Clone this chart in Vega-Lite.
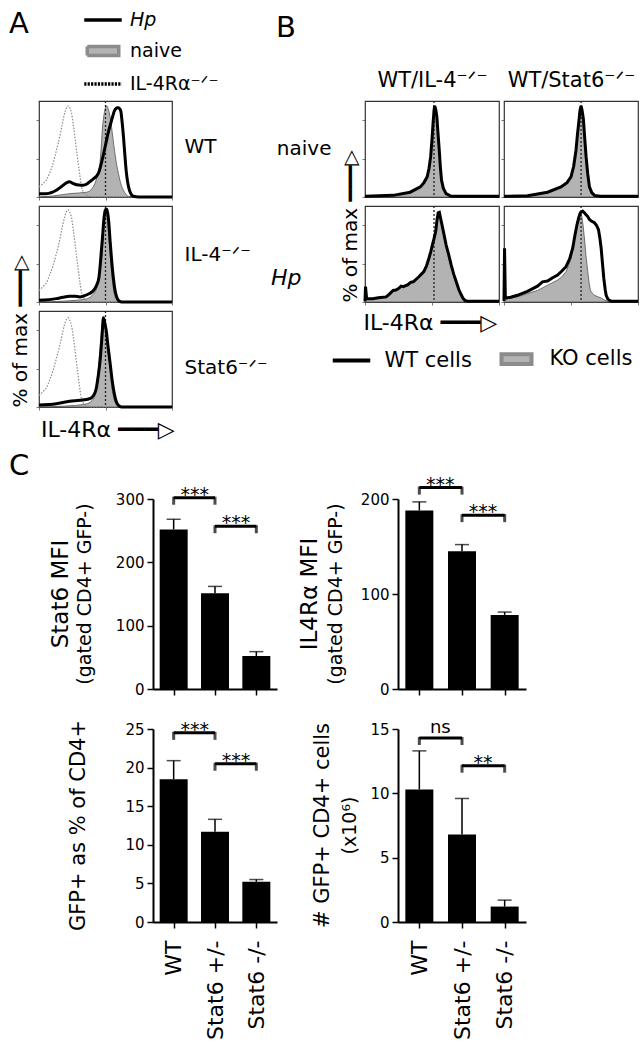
{
"$schema": "https://vega.github.io/schema/vega-lite/v6.json",
"padding": {"left": 8, "top": 2, "right": 2, "bottom": 2},
"background": "white",
"config": {
  "font": "DejaVu Sans",
  "view": {"stroke": null},
  "axis": {"grid": false, "labelFont": "DejaVu Sans", "titleFont": "DejaVu Sans", "labelColor": "black", "titleColor": "black", "titleFontWeight": "normal", "domainColor": "black", "tickColor": "black", "labelOverlap": false},
  "title": {"font": "DejaVu Sans", "fontWeight": "normal", "color": "black", "subtitleFont": "DejaVu Sans", "subtitleColor": "black", "subtitleFontSize": 19, "subtitlePadding": 4},
  "legend": {"labelFont": "DejaVu Sans", "titleFont": "DejaVu Sans", "labelColor": "black", "titleColor": "black", "titleFontWeight": "normal", "padding": 0},
  "text": {"font": "DejaVu Sans"}
},
"datasets": {
  "markers": [
    {"panel": "A_WT", "x": 50}, {"panel": "A_IL4", "x": 50}, {"panel": "A_Stat6", "x": 50},
    {"panel": "B_IL4_naive", "x": 51.5}, {"panel": "B_Stat6_naive", "x": 57.5},
    {"panel": "B_IL4_Hp", "x": 51.5}, {"panel": "B_Stat6_Hp", "x": 57.5}
  ],
  "bars": [
    {"chart": "stat6", "group": "WT", "mean": 252, "upper": 268},
    {"chart": "stat6", "group": "Stat6 +/-", "mean": 151, "upper": 162},
    {"chart": "stat6", "group": "Stat6 -/-", "mean": 52, "upper": 59},
    {"chart": "il4r", "group": "WT", "mean": 188, "upper": 197},
    {"chart": "il4r", "group": "Stat6 +/-", "mean": 145, "upper": 152},
    {"chart": "il4r", "group": "Stat6 -/-", "mean": 78, "upper": 81},
    {"chart": "gfp", "group": "WT", "mean": 18.5, "upper": 20.9},
    {"chart": "gfp", "group": "Stat6 +/-", "mean": 11.7, "upper": 13.3},
    {"chart": "gfp", "group": "Stat6 -/-", "mean": 5.2, "upper": 5.5},
    {"chart": "cells", "group": "WT", "mean": 10.3, "upper": 13.3},
    {"chart": "cells", "group": "Stat6 +/-", "mean": 6.8, "upper": 9.6},
    {"chart": "cells", "group": "Stat6 -/-", "mean": 1.2, "upper": 1.7}
  ],
  "brackets": [
    {"chart": "stat6", "from": "WT", "to": "Stat6 +/-", "level": 302, "label": "***"},
    {"chart": "stat6", "from": "Stat6 +/-", "to": "Stat6 -/-", "level": 257, "label": "***"},
    {"chart": "il4r", "from": "WT", "to": "Stat6 +/-", "level": 212, "label": "***"},
    {"chart": "il4r", "from": "Stat6 +/-", "to": "Stat6 -/-", "level": 183, "label": "***"},
    {"chart": "gfp", "from": "WT", "to": "Stat6 +/-", "level": 24.5, "label": "***"},
    {"chart": "gfp", "from": "Stat6 +/-", "to": "Stat6 -/-", "level": 20.5, "label": "***"},
    {"chart": "cells", "from": "WT", "to": "Stat6 +/-", "level": 14.3, "label": "ns"},
    {"chart": "cells", "from": "Stat6 +/-", "to": "Stat6 -/-", "level": 12.15, "label": "**"}
  ],
  "curves": [
    {"panel":"A_WT","series":"naive","x":0,"y":0},{"panel":"A_WT","series":"naive","x":10,"y":1},{"panel":"A_WT","series":"naive","x":23,"y":3.5},{"panel":"A_WT","series":"naive","x":36,"y":5},{"panel":"A_WT","series":"naive","x":40,"y":9},{"panel":"A_WT","series":"naive","x":42,"y":14},{"panel":"A_WT","series":"naive","x":44,"y":23},{"panel":"A_WT","series":"naive","x":45.8,"y":35},{"panel":"A_WT","series":"naive","x":46.8,"y":52},{"panel":"A_WT","series":"naive","x":47.6,"y":70},{"panel":"A_WT","series":"naive","x":48.6,"y":83},{"panel":"A_WT","series":"naive","x":49.6,"y":91},{"panel":"A_WT","series":"naive","x":50.9,"y":95},{"panel":"A_WT","series":"naive","x":52,"y":92},{"panel":"A_WT","series":"naive","x":53.4,"y":84},{"panel":"A_WT","series":"naive","x":55,"y":68},{"panel":"A_WT","series":"naive","x":56.4,"y":52.6},{"panel":"A_WT","series":"naive","x":58,"y":37},{"panel":"A_WT","series":"naive","x":59.7,"y":24.6},{"panel":"A_WT","series":"naive","x":61.5,"y":14},{"panel":"A_WT","series":"naive","x":63.5,"y":7},{"panel":"A_WT","series":"naive","x":65.5,"y":2.5},{"panel":"A_WT","series":"naive","x":67.3,"y":0.7},{"panel":"A_WT","series":"naive","x":75,"y":0},{"panel":"A_WT","series":"naive","x":100,"y":0},
    {"panel":"A_WT","series":"KO","x":0,"y":10.5},{"panel":"A_WT","series":"KO","x":3,"y":14},{"panel":"A_WT","series":"KO","x":5.5,"y":17.5},{"panel":"A_WT","series":"KO","x":8,"y":25},{"panel":"A_WT","series":"KO","x":10.6,"y":35},{"panel":"A_WT","series":"KO","x":13,"y":48},{"panel":"A_WT","series":"KO","x":15.6,"y":63},{"panel":"A_WT","series":"KO","x":17.5,"y":76},{"panel":"A_WT","series":"KO","x":19.4,"y":88},{"panel":"A_WT","series":"KO","x":21,"y":93.5},{"panel":"A_WT","series":"KO","x":22,"y":95},{"panel":"A_WT","series":"KO","x":23,"y":93.5},{"panel":"A_WT","series":"KO","x":24.4,"y":88},{"panel":"A_WT","series":"KO","x":25.7,"y":76},{"panel":"A_WT","series":"KO","x":27,"y":63},{"panel":"A_WT","series":"KO","x":28.2,"y":49},{"panel":"A_WT","series":"KO","x":29.5,"y":35},{"panel":"A_WT","series":"KO","x":30.8,"y":22},{"panel":"A_WT","series":"KO","x":32,"y":10.5},{"panel":"A_WT","series":"KO","x":34,"y":4},{"panel":"A_WT","series":"KO","x":35.8,"y":2},{"panel":"A_WT","series":"KO","x":40.8,"y":0},{"panel":"A_WT","series":"KO","x":100,"y":0},
    {"panel":"A_WT","series":"Hp","x":0,"y":3.5},{"panel":"A_WT","series":"Hp","x":5.5,"y":3.5},{"panel":"A_WT","series":"Hp","x":13,"y":7},{"panel":"A_WT","series":"Hp","x":17,"y":11},{"panel":"A_WT","series":"Hp","x":20.6,"y":14.7},{"panel":"A_WT","series":"Hp","x":23,"y":15.8},{"panel":"A_WT","series":"Hp","x":25,"y":14.5},{"panel":"A_WT","series":"Hp","x":27,"y":13.3},{"panel":"A_WT","series":"Hp","x":30,"y":12.5},{"panel":"A_WT","series":"Hp","x":33,"y":12.3},{"panel":"A_WT","series":"Hp","x":36,"y":13.5},{"panel":"A_WT","series":"Hp","x":38,"y":15.8},{"panel":"A_WT","series":"Hp","x":41,"y":19},{"panel":"A_WT","series":"Hp","x":44.6,"y":24.6},{"panel":"A_WT","series":"Hp","x":46.5,"y":33},{"panel":"A_WT","series":"Hp","x":48.4,"y":44},{"panel":"A_WT","series":"Hp","x":50,"y":54},{"panel":"A_WT","series":"Hp","x":52,"y":66.7},{"panel":"A_WT","series":"Hp","x":54,"y":77},{"panel":"A_WT","series":"Hp","x":55.4,"y":84},{"panel":"A_WT","series":"Hp","x":56.5,"y":89},{"panel":"A_WT","series":"Hp","x":57.7,"y":92},{"panel":"A_WT","series":"Hp","x":58.7,"y":93},{"panel":"A_WT","series":"Hp","x":59.7,"y":93},{"panel":"A_WT","series":"Hp","x":60.6,"y":92},{"panel":"A_WT","series":"Hp","x":61.5,"y":89.5},{"panel":"A_WT","series":"Hp","x":62.5,"y":78},{"panel":"A_WT","series":"Hp","x":63.5,"y":63},{"panel":"A_WT","series":"Hp","x":64.5,"y":45},{"panel":"A_WT","series":"Hp","x":65.5,"y":28},{"panel":"A_WT","series":"Hp","x":66.7,"y":15},{"panel":"A_WT","series":"Hp","x":68,"y":7},{"panel":"A_WT","series":"Hp","x":69.5,"y":2.5},{"panel":"A_WT","series":"Hp","x":71,"y":0.7},{"panel":"A_WT","series":"Hp","x":75,"y":0},{"panel":"A_WT","series":"Hp","x":100,"y":0},

    {"panel":"A_IL4","series":"naive","x":0,"y":0},{"panel":"A_IL4","series":"naive","x":20,"y":1},{"panel":"A_IL4","series":"naive","x":35,"y":3},{"panel":"A_IL4","series":"naive","x":40,"y":7},{"panel":"A_IL4","series":"naive","x":43.3,"y":14},{"panel":"A_IL4","series":"naive","x":45.8,"y":31.6},{"panel":"A_IL4","series":"naive","x":47.6,"y":52.6},{"panel":"A_IL4","series":"naive","x":48.9,"y":84},{"panel":"A_IL4","series":"naive","x":50,"y":95},{"panel":"A_IL4","series":"naive","x":51,"y":90},{"panel":"A_IL4","series":"naive","x":52,"y":77},{"panel":"A_IL4","series":"naive","x":53,"y":58},{"panel":"A_IL4","series":"naive","x":53.9,"y":42},{"panel":"A_IL4","series":"naive","x":55,"y":25},{"panel":"A_IL4","series":"naive","x":55.9,"y":14},{"panel":"A_IL4","series":"naive","x":57,"y":6},{"panel":"A_IL4","series":"naive","x":58.4,"y":2.8},{"panel":"A_IL4","series":"naive","x":61,"y":0},{"panel":"A_IL4","series":"naive","x":100,"y":0},
    {"panel":"A_IL4","series":"KO","x":0,"y":12},{"panel":"A_IL4","series":"KO","x":3,"y":16},{"panel":"A_IL4","series":"KO","x":5.5,"y":20},{"panel":"A_IL4","series":"KO","x":8,"y":28},{"panel":"A_IL4","series":"KO","x":10.6,"y":38},{"panel":"A_IL4","series":"KO","x":13,"y":50},{"panel":"A_IL4","series":"KO","x":15.6,"y":65},{"panel":"A_IL4","series":"KO","x":17.5,"y":78},{"panel":"A_IL4","series":"KO","x":19.4,"y":89},{"panel":"A_IL4","series":"KO","x":21,"y":95},{"panel":"A_IL4","series":"KO","x":22,"y":96},{"panel":"A_IL4","series":"KO","x":23,"y":94},{"panel":"A_IL4","series":"KO","x":24.4,"y":88},{"panel":"A_IL4","series":"KO","x":25.7,"y":76},{"panel":"A_IL4","series":"KO","x":27,"y":62},{"panel":"A_IL4","series":"KO","x":28.2,"y":48},{"panel":"A_IL4","series":"KO","x":29.5,"y":34},{"panel":"A_IL4","series":"KO","x":30.8,"y":20},{"panel":"A_IL4","series":"KO","x":32,"y":9},{"panel":"A_IL4","series":"KO","x":34,"y":3.5},{"panel":"A_IL4","series":"KO","x":35.8,"y":1.5},{"panel":"A_IL4","series":"KO","x":40,"y":0},{"panel":"A_IL4","series":"KO","x":100,"y":0},
    {"panel":"A_IL4","series":"Hp","x":0,"y":1.7},{"panel":"A_IL4","series":"Hp","x":13,"y":3.5},{"panel":"A_IL4","series":"Hp","x":18,"y":5},{"panel":"A_IL4","series":"Hp","x":23,"y":6},{"panel":"A_IL4","series":"Hp","x":27,"y":6},{"panel":"A_IL4","series":"Hp","x":30.7,"y":5.3},{"panel":"A_IL4","series":"Hp","x":34,"y":6.5},{"panel":"A_IL4","series":"Hp","x":38,"y":8.8},{"panel":"A_IL4","series":"Hp","x":41,"y":12},{"panel":"A_IL4","series":"Hp","x":43.3,"y":17.5},{"panel":"A_IL4","series":"Hp","x":45,"y":25},{"panel":"A_IL4","series":"Hp","x":45.8,"y":35},{"panel":"A_IL4","series":"Hp","x":47,"y":55},{"panel":"A_IL4","series":"Hp","x":47.9,"y":70},{"panel":"A_IL4","series":"Hp","x":48.7,"y":85},{"panel":"A_IL4","series":"Hp","x":49.4,"y":93},{"panel":"A_IL4","series":"Hp","x":50.3,"y":96.5},{"panel":"A_IL4","series":"Hp","x":51,"y":96.5},{"panel":"A_IL4","series":"Hp","x":51.8,"y":91},{"panel":"A_IL4","series":"Hp","x":52.4,"y":84},{"panel":"A_IL4","series":"Hp","x":53.5,"y":63},{"panel":"A_IL4","series":"Hp","x":54.7,"y":42},{"panel":"A_IL4","series":"Hp","x":56,"y":24},{"panel":"A_IL4","series":"Hp","x":57.2,"y":12},{"panel":"A_IL4","series":"Hp","x":58.5,"y":5},{"panel":"A_IL4","series":"Hp","x":59.7,"y":1.7},{"panel":"A_IL4","series":"Hp","x":62,"y":0},{"panel":"A_IL4","series":"Hp","x":100,"y":0},

    {"panel":"A_Stat6","series":"naive","x":0,"y":0},{"panel":"A_Stat6","series":"naive","x":20,"y":1},{"panel":"A_Stat6","series":"naive","x":35,"y":3},{"panel":"A_Stat6","series":"naive","x":40,"y":7},{"panel":"A_Stat6","series":"naive","x":42,"y":12},{"panel":"A_Stat6","series":"naive","x":43.5,"y":25},{"panel":"A_Stat6","series":"naive","x":44.6,"y":40},{"panel":"A_Stat6","series":"naive","x":45.7,"y":58},{"panel":"A_Stat6","series":"naive","x":46.6,"y":74},{"panel":"A_Stat6","series":"naive","x":47.5,"y":86},{"panel":"A_Stat6","series":"naive","x":48.4,"y":91},{"panel":"A_Stat6","series":"naive","x":49.5,"y":86},{"panel":"A_Stat6","series":"naive","x":50.9,"y":74},{"panel":"A_Stat6","series":"naive","x":52,"y":58},{"panel":"A_Stat6","series":"naive","x":53.4,"y":40},{"panel":"A_Stat6","series":"naive","x":54.6,"y":22},{"panel":"A_Stat6","series":"naive","x":55.9,"y":12},{"panel":"A_Stat6","series":"naive","x":57.5,"y":4},{"panel":"A_Stat6","series":"naive","x":59.7,"y":1},{"panel":"A_Stat6","series":"naive","x":62,"y":0},{"panel":"A_Stat6","series":"naive","x":100,"y":0},
    {"panel":"A_Stat6","series":"KO","x":0,"y":12},{"panel":"A_Stat6","series":"KO","x":3,"y":16},{"panel":"A_Stat6","series":"KO","x":5.5,"y":20},{"panel":"A_Stat6","series":"KO","x":8,"y":28},{"panel":"A_Stat6","series":"KO","x":10.6,"y":38},{"panel":"A_Stat6","series":"KO","x":13,"y":50},{"panel":"A_Stat6","series":"KO","x":15.6,"y":64},{"panel":"A_Stat6","series":"KO","x":17.5,"y":76},{"panel":"A_Stat6","series":"KO","x":19.4,"y":87},{"panel":"A_Stat6","series":"KO","x":21,"y":92},{"panel":"A_Stat6","series":"KO","x":22,"y":93},{"panel":"A_Stat6","series":"KO","x":23,"y":91},{"panel":"A_Stat6","series":"KO","x":24.4,"y":85},{"panel":"A_Stat6","series":"KO","x":25.7,"y":74},{"panel":"A_Stat6","series":"KO","x":27,"y":60},{"panel":"A_Stat6","series":"KO","x":28.2,"y":46},{"panel":"A_Stat6","series":"KO","x":29.5,"y":32},{"panel":"A_Stat6","series":"KO","x":30.8,"y":18},{"panel":"A_Stat6","series":"KO","x":32,"y":8},{"panel":"A_Stat6","series":"KO","x":34,"y":3},{"panel":"A_Stat6","series":"KO","x":35.8,"y":1.2},{"panel":"A_Stat6","series":"KO","x":40,"y":0},{"panel":"A_Stat6","series":"KO","x":100,"y":0},
    {"panel":"A_Stat6","series":"Hp","x":0,"y":2},{"panel":"A_Stat6","series":"Hp","x":13,"y":3.5},{"panel":"A_Stat6","series":"Hp","x":23,"y":6},{"panel":"A_Stat6","series":"Hp","x":30.7,"y":7},{"panel":"A_Stat6","series":"Hp","x":38,"y":8.6},{"panel":"A_Stat6","series":"Hp","x":41,"y":12},{"panel":"A_Stat6","series":"Hp","x":43,"y":19},{"panel":"A_Stat6","series":"Hp","x":44.5,"y":32},{"panel":"A_Stat6","series":"Hp","x":45.8,"y":46.5},{"panel":"A_Stat6","series":"Hp","x":47.4,"y":74},{"panel":"A_Stat6","series":"Hp","x":48.4,"y":93},{"panel":"A_Stat6","series":"Hp","x":49.4,"y":88},{"panel":"A_Stat6","series":"Hp","x":50.4,"y":81},{"panel":"A_Stat6","series":"Hp","x":52,"y":62},{"panel":"A_Stat6","series":"Hp","x":53.4,"y":46.5},{"panel":"A_Stat6","series":"Hp","x":55,"y":28},{"panel":"A_Stat6","series":"Hp","x":56.4,"y":15.5},{"panel":"A_Stat6","series":"Hp","x":58,"y":6},{"panel":"A_Stat6","series":"Hp","x":59.7,"y":1.7},{"panel":"A_Stat6","series":"Hp","x":62,"y":0},{"panel":"A_Stat6","series":"Hp","x":100,"y":0},

    {"panel":"B_IL4_naive","series":"KO","x":0,"y":0.7},{"panel":"B_IL4_naive","series":"KO","x":21,"y":1.7},{"panel":"B_IL4_naive","series":"KO","x":33.7,"y":5},{"panel":"B_IL4_naive","series":"KO","x":41.3,"y":10.5},{"panel":"B_IL4_naive","series":"KO","x":44,"y":15},{"panel":"B_IL4_naive","series":"KO","x":46.4,"y":21},{"panel":"B_IL4_naive","series":"KO","x":47.8,"y":30},{"panel":"B_IL4_naive","series":"KO","x":49,"y":42},{"panel":"B_IL4_naive","series":"KO","x":50,"y":60},{"panel":"B_IL4_naive","series":"KO","x":50.8,"y":76},{"panel":"B_IL4_naive","series":"KO","x":51.5,"y":88},{"panel":"B_IL4_naive","series":"KO","x":52,"y":93},{"panel":"B_IL4_naive","series":"KO","x":52.8,"y":89},{"panel":"B_IL4_naive","series":"KO","x":53.6,"y":82},{"panel":"B_IL4_naive","series":"KO","x":54.5,"y":64},{"panel":"B_IL4_naive","series":"KO","x":55.4,"y":47},{"panel":"B_IL4_naive","series":"KO","x":56.2,"y":30},{"panel":"B_IL4_naive","series":"KO","x":57.1,"y":16},{"panel":"B_IL4_naive","series":"KO","x":58.5,"y":8},{"panel":"B_IL4_naive","series":"KO","x":60.5,"y":3},{"panel":"B_IL4_naive","series":"KO","x":64.3,"y":0.7},{"panel":"B_IL4_naive","series":"KO","x":100,"y":0.7},
    {"panel":"B_IL4_naive","series":"WT","x":0,"y":0.7},{"panel":"B_IL4_naive","series":"WT","x":21,"y":1.7},{"panel":"B_IL4_naive","series":"WT","x":33.7,"y":5},{"panel":"B_IL4_naive","series":"WT","x":41.3,"y":10.5},{"panel":"B_IL4_naive","series":"WT","x":44,"y":15},{"panel":"B_IL4_naive","series":"WT","x":46.4,"y":21},{"panel":"B_IL4_naive","series":"WT","x":47.8,"y":30},{"panel":"B_IL4_naive","series":"WT","x":49,"y":42},{"panel":"B_IL4_naive","series":"WT","x":50,"y":60},{"panel":"B_IL4_naive","series":"WT","x":50.8,"y":77},{"panel":"B_IL4_naive","series":"WT","x":51.5,"y":90},{"panel":"B_IL4_naive","series":"WT","x":52,"y":95},{"panel":"B_IL4_naive","series":"WT","x":52.8,"y":91},{"panel":"B_IL4_naive","series":"WT","x":53.6,"y":84},{"panel":"B_IL4_naive","series":"WT","x":54.5,"y":66},{"panel":"B_IL4_naive","series":"WT","x":55.4,"y":49},{"panel":"B_IL4_naive","series":"WT","x":56.2,"y":32},{"panel":"B_IL4_naive","series":"WT","x":57.1,"y":17.5},{"panel":"B_IL4_naive","series":"WT","x":58.5,"y":9},{"panel":"B_IL4_naive","series":"WT","x":60.5,"y":3.5},{"panel":"B_IL4_naive","series":"WT","x":64.3,"y":0.7},{"panel":"B_IL4_naive","series":"WT","x":100,"y":0.7},

    {"panel":"B_Stat6_naive","series":"KO","x":0,"y":0.7},{"panel":"B_Stat6_naive","series":"KO","x":17.5,"y":1.2},{"panel":"B_Stat6_naive","series":"KO","x":32.5,"y":5},{"panel":"B_Stat6_naive","series":"KO","x":42.5,"y":10},{"panel":"B_Stat6_naive","series":"KO","x":47,"y":14},{"panel":"B_Stat6_naive","series":"KO","x":50,"y":20},{"panel":"B_Stat6_naive","series":"KO","x":52,"y":31},{"panel":"B_Stat6_naive","series":"KO","x":53.75,"y":47},{"panel":"B_Stat6_naive","series":"KO","x":54.8,"y":63},{"panel":"B_Stat6_naive","series":"KO","x":55.75,"y":75},{"panel":"B_Stat6_naive","series":"KO","x":56.7,"y":88},{"panel":"B_Stat6_naive","series":"KO","x":57.5,"y":93},{"panel":"B_Stat6_naive","series":"KO","x":58.3,"y":88},{"panel":"B_Stat6_naive","series":"KO","x":59.25,"y":79},{"panel":"B_Stat6_naive","series":"KO","x":60.2,"y":60},{"panel":"B_Stat6_naive","series":"KO","x":61.25,"y":40},{"panel":"B_Stat6_naive","series":"KO","x":62.5,"y":22},{"panel":"B_Stat6_naive","series":"KO","x":63.75,"y":9},{"panel":"B_Stat6_naive","series":"KO","x":65.5,"y":3.5},{"panel":"B_Stat6_naive","series":"KO","x":67.5,"y":1.2},{"panel":"B_Stat6_naive","series":"KO","x":72,"y":0.7},{"panel":"B_Stat6_naive","series":"KO","x":100,"y":0.7},
    {"panel":"B_Stat6_naive","series":"WT","x":0,"y":0.7},{"panel":"B_Stat6_naive","series":"WT","x":17.5,"y":1.2},{"panel":"B_Stat6_naive","series":"WT","x":32.5,"y":5},{"panel":"B_Stat6_naive","series":"WT","x":42.5,"y":10.5},{"panel":"B_Stat6_naive","series":"WT","x":47,"y":15},{"panel":"B_Stat6_naive","series":"WT","x":50,"y":21},{"panel":"B_Stat6_naive","series":"WT","x":52,"y":32},{"panel":"B_Stat6_naive","series":"WT","x":53.75,"y":49},{"panel":"B_Stat6_naive","series":"WT","x":54.8,"y":65},{"panel":"B_Stat6_naive","series":"WT","x":55.75,"y":77},{"panel":"B_Stat6_naive","series":"WT","x":56.7,"y":90},{"panel":"B_Stat6_naive","series":"WT","x":57.5,"y":95},{"panel":"B_Stat6_naive","series":"WT","x":58.3,"y":90},{"panel":"B_Stat6_naive","series":"WT","x":59.25,"y":81},{"panel":"B_Stat6_naive","series":"WT","x":60.2,"y":62},{"panel":"B_Stat6_naive","series":"WT","x":61.25,"y":42},{"panel":"B_Stat6_naive","series":"WT","x":62.5,"y":24},{"panel":"B_Stat6_naive","series":"WT","x":63.75,"y":10.5},{"panel":"B_Stat6_naive","series":"WT","x":65.5,"y":4.5},{"panel":"B_Stat6_naive","series":"WT","x":67.5,"y":1.7},{"panel":"B_Stat6_naive","series":"WT","x":72,"y":0.7},{"panel":"B_Stat6_naive","series":"WT","x":100,"y":0.7},

    {"panel":"B_IL4_Hp","series":"KO","x":0,"y":0.7},{"panel":"B_IL4_Hp","series":"KO","x":1.2,"y":3.5},{"panel":"B_IL4_Hp","series":"KO","x":5.6,"y":3.5},{"panel":"B_IL4_Hp","series":"KO","x":10,"y":4.5},{"panel":"B_IL4_Hp","series":"KO","x":15.8,"y":5.3},{"panel":"B_IL4_Hp","series":"KO","x":18,"y":8},{"panel":"B_IL4_Hp","series":"KO","x":21,"y":12},{"panel":"B_IL4_Hp","series":"KO","x":25,"y":14.5},{"panel":"B_IL4_Hp","series":"KO","x":28.6,"y":17},{"panel":"B_IL4_Hp","series":"KO","x":32,"y":18.5},{"panel":"B_IL4_Hp","series":"KO","x":36,"y":21},{"panel":"B_IL4_Hp","series":"KO","x":40,"y":26},{"panel":"B_IL4_Hp","series":"KO","x":43.9,"y":31.6},{"panel":"B_IL4_Hp","series":"KO","x":46,"y":38},{"panel":"B_IL4_Hp","series":"KO","x":47.7,"y":45.6},{"panel":"B_IL4_Hp","series":"KO","x":49,"y":52},{"panel":"B_IL4_Hp","series":"KO","x":50.3,"y":59.6},{"panel":"B_IL4_Hp","series":"KO","x":51.5,"y":66},{"panel":"B_IL4_Hp","series":"KO","x":52.8,"y":73.7},{"panel":"B_IL4_Hp","series":"KO","x":53.7,"y":85},{"panel":"B_IL4_Hp","series":"KO","x":54.6,"y":92},{"panel":"B_IL4_Hp","series":"KO","x":55.5,"y":92.5},{"panel":"B_IL4_Hp","series":"KO","x":56.3,"y":87},{"panel":"B_IL4_Hp","series":"KO","x":57.4,"y":80},{"panel":"B_IL4_Hp","series":"KO","x":59,"y":70},{"panel":"B_IL4_Hp","series":"KO","x":60.5,"y":59.6},{"panel":"B_IL4_Hp","series":"KO","x":62.5,"y":49},{"panel":"B_IL4_Hp","series":"KO","x":64.3,"y":38.6},{"panel":"B_IL4_Hp","series":"KO","x":66.2,"y":29},{"panel":"B_IL4_Hp","series":"KO","x":68.1,"y":21},{"panel":"B_IL4_Hp","series":"KO","x":70,"y":13},{"panel":"B_IL4_Hp","series":"KO","x":72,"y":7},{"panel":"B_IL4_Hp","series":"KO","x":73.3,"y":3.5},{"panel":"B_IL4_Hp","series":"KO","x":74.5,"y":1.7},{"panel":"B_IL4_Hp","series":"KO","x":77,"y":0.7},{"panel":"B_IL4_Hp","series":"KO","x":100,"y":0.7},
    {"panel":"B_IL4_Hp","series":"WT","x":0,"y":0.7},{"panel":"B_IL4_Hp","series":"WT","x":0.4,"y":16},{"panel":"B_IL4_Hp","series":"WT","x":1.2,"y":3.5},{"panel":"B_IL4_Hp","series":"WT","x":5.6,"y":3.5},{"panel":"B_IL4_Hp","series":"WT","x":10,"y":4.5},{"panel":"B_IL4_Hp","series":"WT","x":15.8,"y":5.3},{"panel":"B_IL4_Hp","series":"WT","x":18,"y":8},{"panel":"B_IL4_Hp","series":"WT","x":21,"y":12},{"panel":"B_IL4_Hp","series":"WT","x":23,"y":12.5},{"panel":"B_IL4_Hp","series":"WT","x":25,"y":14},{"panel":"B_IL4_Hp","series":"WT","x":27,"y":16.5},{"panel":"B_IL4_Hp","series":"WT","x":28.6,"y":16},{"panel":"B_IL4_Hp","series":"WT","x":32,"y":18},{"panel":"B_IL4_Hp","series":"WT","x":34,"y":20.5},{"panel":"B_IL4_Hp","series":"WT","x":36,"y":21},{"panel":"B_IL4_Hp","series":"WT","x":40,"y":26},{"panel":"B_IL4_Hp","series":"WT","x":43.9,"y":31.6},{"panel":"B_IL4_Hp","series":"WT","x":46,"y":38},{"panel":"B_IL4_Hp","series":"WT","x":47.7,"y":45.6},{"panel":"B_IL4_Hp","series":"WT","x":49,"y":52},{"panel":"B_IL4_Hp","series":"WT","x":50.3,"y":59.6},{"panel":"B_IL4_Hp","series":"WT","x":51.5,"y":66},{"panel":"B_IL4_Hp","series":"WT","x":52.8,"y":73.7},{"panel":"B_IL4_Hp","series":"WT","x":53.7,"y":85},{"panel":"B_IL4_Hp","series":"WT","x":54.6,"y":93},{"panel":"B_IL4_Hp","series":"WT","x":55.5,"y":93.5},{"panel":"B_IL4_Hp","series":"WT","x":56.3,"y":88},{"panel":"B_IL4_Hp","series":"WT","x":57.4,"y":80.7},{"panel":"B_IL4_Hp","series":"WT","x":59,"y":70},{"panel":"B_IL4_Hp","series":"WT","x":60.5,"y":59.6},{"panel":"B_IL4_Hp","series":"WT","x":62.5,"y":49},{"panel":"B_IL4_Hp","series":"WT","x":64.3,"y":38.6},{"panel":"B_IL4_Hp","series":"WT","x":66.2,"y":29},{"panel":"B_IL4_Hp","series":"WT","x":68.1,"y":21},{"panel":"B_IL4_Hp","series":"WT","x":70,"y":13},{"panel":"B_IL4_Hp","series":"WT","x":72,"y":7},{"panel":"B_IL4_Hp","series":"WT","x":73.3,"y":3.5},{"panel":"B_IL4_Hp","series":"WT","x":74.5,"y":1.7},{"panel":"B_IL4_Hp","series":"WT","x":77,"y":0.7},{"panel":"B_IL4_Hp","series":"WT","x":100,"y":0.7},

    {"panel":"B_Stat6_Hp","series":"KO","x":0,"y":0.7},{"panel":"B_Stat6_Hp","series":"KO","x":2.5,"y":3.5},{"panel":"B_Stat6_Hp","series":"KO","x":10,"y":5.3},{"panel":"B_Stat6_Hp","series":"KO","x":17.5,"y":8.8},{"panel":"B_Stat6_Hp","series":"KO","x":25,"y":12},{"panel":"B_Stat6_Hp","series":"KO","x":32.5,"y":17.5},{"panel":"B_Stat6_Hp","series":"KO","x":40,"y":22.8},{"panel":"B_Stat6_Hp","series":"KO","x":43,"y":26},{"panel":"B_Stat6_Hp","series":"KO","x":46.25,"y":31.6},{"panel":"B_Stat6_Hp","series":"KO","x":48.2,"y":38},{"panel":"B_Stat6_Hp","series":"KO","x":50,"y":45.6},{"panel":"B_Stat6_Hp","series":"KO","x":52,"y":60},{"panel":"B_Stat6_Hp","series":"KO","x":53.75,"y":73.7},{"panel":"B_Stat6_Hp","series":"KO","x":55,"y":85},{"panel":"B_Stat6_Hp","series":"KO","x":56.25,"y":93},{"panel":"B_Stat6_Hp","series":"KO","x":57.2,"y":92},{"panel":"B_Stat6_Hp","series":"KO","x":58,"y":89.5},{"panel":"B_Stat6_Hp","series":"KO","x":59,"y":80},{"panel":"B_Stat6_Hp","series":"KO","x":60,"y":66.7},{"panel":"B_Stat6_Hp","series":"KO","x":61.2,"y":48},{"panel":"B_Stat6_Hp","series":"KO","x":62.5,"y":31.6},{"panel":"B_Stat6_Hp","series":"KO","x":63.5,"y":20},{"panel":"B_Stat6_Hp","series":"KO","x":64.5,"y":12},{"panel":"B_Stat6_Hp","series":"KO","x":66,"y":9},{"panel":"B_Stat6_Hp","series":"KO","x":67.5,"y":7},{"panel":"B_Stat6_Hp","series":"KO","x":70,"y":5.5},{"panel":"B_Stat6_Hp","series":"KO","x":72.5,"y":4.2},{"panel":"B_Stat6_Hp","series":"KO","x":75,"y":2},{"panel":"B_Stat6_Hp","series":"KO","x":77.5,"y":0.7},{"panel":"B_Stat6_Hp","series":"KO","x":100,"y":0.7},
    {"panel":"B_Stat6_Hp","series":"WT","x":0,"y":1},{"panel":"B_Stat6_Hp","series":"WT","x":0.4,"y":56},{"panel":"B_Stat6_Hp","series":"WT","x":1,"y":4},{"panel":"B_Stat6_Hp","series":"WT","x":5,"y":5},{"panel":"B_Stat6_Hp","series":"WT","x":10,"y":7},{"panel":"B_Stat6_Hp","series":"WT","x":17.5,"y":11},{"panel":"B_Stat6_Hp","series":"WT","x":25,"y":16.5},{"panel":"B_Stat6_Hp","series":"WT","x":28.75,"y":21},{"panel":"B_Stat6_Hp","series":"WT","x":32.5,"y":21.8},{"panel":"B_Stat6_Hp","series":"WT","x":36,"y":25},{"panel":"B_Stat6_Hp","series":"WT","x":40,"y":28},{"panel":"B_Stat6_Hp","series":"WT","x":43,"y":32},{"panel":"B_Stat6_Hp","series":"WT","x":46.25,"y":36.8},{"panel":"B_Stat6_Hp","series":"WT","x":49,"y":45},{"panel":"B_Stat6_Hp","series":"WT","x":51.25,"y":56},{"panel":"B_Stat6_Hp","series":"WT","x":53,"y":70},{"panel":"B_Stat6_Hp","series":"WT","x":54.5,"y":80.7},{"panel":"B_Stat6_Hp","series":"WT","x":55.8,"y":88},{"panel":"B_Stat6_Hp","series":"WT","x":57,"y":93},{"panel":"B_Stat6_Hp","series":"WT","x":58.75,"y":94.7},{"panel":"B_Stat6_Hp","series":"WT","x":60,"y":93},{"panel":"B_Stat6_Hp","series":"WT","x":61.25,"y":91},{"panel":"B_Stat6_Hp","series":"WT","x":62.5,"y":89},{"panel":"B_Stat6_Hp","series":"WT","x":63.75,"y":86},{"panel":"B_Stat6_Hp","series":"WT","x":65.5,"y":84},{"panel":"B_Stat6_Hp","series":"WT","x":67.5,"y":82.5},{"panel":"B_Stat6_Hp","series":"WT","x":69,"y":80},{"panel":"B_Stat6_Hp","series":"WT","x":70.5,"y":75.4},{"panel":"B_Stat6_Hp","series":"WT","x":71.5,"y":67},{"panel":"B_Stat6_Hp","series":"WT","x":72.5,"y":56},{"panel":"B_Stat6_Hp","series":"WT","x":73.5,"y":40},{"panel":"B_Stat6_Hp","series":"WT","x":74.5,"y":24.5},{"panel":"B_Stat6_Hp","series":"WT","x":75.5,"y":13},{"panel":"B_Stat6_Hp","series":"WT","x":76.25,"y":7},{"panel":"B_Stat6_Hp","series":"WT","x":77.5,"y":3},{"panel":"B_Stat6_Hp","series":"WT","x":78.75,"y":1.7},{"panel":"B_Stat6_Hp","series":"WT","x":80,"y":0.7},{"panel":"B_Stat6_Hp","series":"WT","x":100,"y":0.7}
  ]
},
"spacing": 9,
"vconcat": [
  {
    "concat": [
      {
        "width": 133, "height": 96,
        "view": {"stroke": "#333", "strokeWidth": 1.2},
        "layer": [
          {"data": {"name": "curves"}, "transform": [{"filter": "datum.panel == 'A_WT' && datum.series == 'naive'"}],
           "mark": {"type": "area", "fill": "#b3b3b3", "stroke": "#555", "strokeWidth": 0.8, "interpolate": "monotone"},
           "encoding": {
             "x": {"field": "x", "type": "quantitative", "scale": {"domain": [0, 100], "nice": false}, "axis": {"values": [0,12.5,25,37.5,50,62.5,75,87.5,100], "labels": false, "domain": false, "tickSize": 3, "tickWidth": 0.8, "tickColor": "#555", "title": "WT", "titleFontSize": 20, "titleAngle": 0, "titleAlign": "left", "titleBaseline": "middle", "titleX": 145, "titleY": -51}},
             "y": {"field": "y", "type": "quantitative", "scale": {"domain": [0, 100], "nice": false}, "axis": {"values": [0,20,40,60,80,100], "labels": false, "domain": false, "tickSize": 3, "tickWidth": 0.8, "tickColor": "#555", "title": null}}}},
          {"data": {"name": "markers"}, "transform": [{"filter": "datum.panel == 'A_WT'"}],
           "mark": {"type": "rule", "stroke": "#222", "strokeWidth": 1.3, "strokeDash": [2, 2]},
           "encoding": {"x": {"field": "x", "type": "quantitative", "scale": {"domain": [0, 100], "nice": false}}}},
          {"data": {"name": "curves"}, "transform": [{"filter": "datum.panel == 'A_WT' && datum.series == 'KO'"}],
           "mark": {"type": "line", "stroke": "#8c8c8c", "strokeWidth": 1.2, "strokeDash": [1.5, 1.5], "interpolate": "monotone"},
           "encoding": {"x": {"field": "x", "type": "quantitative", "scale": {"domain": [0, 100], "nice": false}}, "y": {"field": "y", "type": "quantitative", "scale": {"domain": [0, 100], "nice": false}}}},
          {"data": {"name": "curves"}, "transform": [{"filter": "datum.panel == 'A_WT' && datum.series == 'Hp'"}],
           "mark": {"type": "line", "stroke": "black", "strokeWidth": 3, "interpolate": "monotone"},
           "encoding": {"x": {"field": "x", "type": "quantitative", "scale": {"domain": [0, 100], "nice": false}}, "y": {"field": "y", "type": "quantitative", "scale": {"domain": [0, 100], "nice": false}}}}
        ]
      },
      {
        "width": 183, "height": 96,
        "data": {"values": [{}]},
        "mark": {"type": "point", "opacity": 0}
      },
      {
        "width": 134, "height": 96,
        "view": {"stroke": "#333", "strokeWidth": 1.2},
        "title": {"text": "B", "anchor": "start", "frame": "group", "dx": -89, "offset": 3, "fontSize": 29, "baseline": "alphabetic"},
        "layer": [
          {"data": {"name": "curves"}, "transform": [{"filter": "datum.panel == 'B_IL4_naive' && datum.series == 'KO'"}],
           "mark": {"type": "area", "fill": "#b3b3b3", "stroke": "#555", "strokeWidth": 0.8},
           "encoding": {
             "x": {"field": "x", "type": "quantitative", "scale": {"domain": [0, 100], "nice": false}, "axis": {"orient": "top", "title": "WT/IL-4⁻ᐟ⁻", "titleFontSize": 21, "titlePadding": 15, "titleBaseline": "alphabetic", "labels": false, "ticks": false, "domain": false}},
             "y": {"field": "y", "type": "quantitative", "scale": {"domain": [0, 100], "nice": false}, "axis": {"values": [0,20,40,60,80,100], "labels": false, "domain": false, "tickSize": 3, "tickWidth": 0.8, "tickColor": "#555", "title": "naive", "titleFontSize": 20, "titleAngle": 0, "titleAlign": "right", "titleBaseline": "middle", "titleX": -34, "titleY": 47}}}},
          {"data": {"name": "markers"}, "transform": [{"filter": "datum.panel == 'B_IL4_naive'"}],
           "mark": {"type": "rule", "stroke": "#222", "strokeWidth": 1.3, "strokeDash": [2, 2]},
           "encoding": {"x": {"field": "x", "type": "quantitative", "scale": {"domain": [0, 100], "nice": false}}}},
          {"data": {"name": "curves"}, "transform": [{"filter": "datum.panel == 'B_IL4_naive' && datum.series == 'WT'"}],
           "mark": {"type": "line", "stroke": "black", "strokeWidth": 3},
           "encoding": {"x": {"field": "x", "type": "quantitative", "scale": {"domain": [0, 100], "nice": false}}, "y": {"field": "y", "type": "quantitative", "scale": {"domain": [0, 100], "nice": false}}}}
        ]
      },
      {
        "width": 134, "height": 96,
        "view": {"stroke": "#333", "strokeWidth": 1.2},
        "layer": [
          {"data": {"name": "curves"}, "transform": [{"filter": "datum.panel == 'B_Stat6_naive' && datum.series == 'KO'"}],
           "mark": {"type": "area", "fill": "#b3b3b3", "stroke": "#555", "strokeWidth": 0.8},
           "encoding": {
             "x": {"field": "x", "type": "quantitative", "scale": {"domain": [0, 100], "nice": false}, "axis": {"orient": "top", "title": "WT/Stat6⁻ᐟ⁻", "titleFontSize": 21, "titlePadding": 15, "titleBaseline": "alphabetic", "labels": false, "ticks": false, "domain": false}},
             "y": {"field": "y", "type": "quantitative", "scale": {"domain": [0, 100], "nice": false}, "axis": {"values": [0,20,40,60,80,100], "labels": false, "domain": false, "tickSize": 3, "tickWidth": 0.8, "tickColor": "#555", "title": null}}}},
          {"data": {"name": "markers"}, "transform": [{"filter": "datum.panel == 'B_Stat6_naive'"}],
           "mark": {"type": "rule", "stroke": "#222", "strokeWidth": 1.3, "strokeDash": [2, 2]},
           "encoding": {"x": {"field": "x", "type": "quantitative", "scale": {"domain": [0, 100], "nice": false}}}},
          {"data": {"name": "curves"}, "transform": [{"filter": "datum.panel == 'B_Stat6_naive' && datum.series == 'WT'"}],
           "mark": {"type": "line", "stroke": "black", "strokeWidth": 3},
           "encoding": {"x": {"field": "x", "type": "quantitative", "scale": {"domain": [0, 100], "nice": false}}, "y": {"field": "y", "type": "quantitative", "scale": {"domain": [0, 100], "nice": false}}}},
          {"data": {"name": "markers"}, "transform": [{"filter": "false"}],
           "mark": {"type": "point", "filled": true},
           "encoding": {
             "shape": {"field": "series", "type": "nominal",
               "scale": {"domain": ["Hp", "naive", "IL-4Rα⁻ᐟ⁻"], "range": ["M-1.25,0H1.25", "M-1.05,-0.3H1.05V0.3H-1.05Z", "M-1.25,0H1.25"]},
               "legend": {"title": "A", "titleOrient": "left", "titleAnchor": "start", "titleFontSize": 29, "titleBaseline": "line-top", "titleLineHeight": 43, "titlePadding": 57,
                 "labelFontSize": 19, "labelOffset": 10, "symbolSize": 900, "symbolStrokeWidth": 3.5, "rowPadding": 4,
                 "orient": "none", "legendX": -495, "legendY": -98, "symbolOpacity": 1, "labelLimit": 400,
                 "labelFontStyle": {"expr": "datum.label == 'Hp' ? 'italic' : 'normal'"}}},
             "fill": {"field": "series", "type": "nominal", "scale": {"domain": ["Hp", "naive", "IL-4Rα⁻ᐟ⁻"], "range": ["transparent", "#b3b3b3", "transparent"]}},
             "stroke": {"field": "series", "type": "nominal", "scale": {"domain": ["Hp", "naive", "IL-4Rα⁻ᐟ⁻"], "range": ["black", "#8c8c8c", "black"]}},
             "strokeDash": {"field": "series", "type": "nominal", "scale": {"domain": ["Hp", "naive", "IL-4Rα⁻ᐟ⁻"], "range": [[1, 0], [1, 0], [2.2, 1.2]]}}
           }}
        ]
      },
      {
        "width": 133, "height": 96,
        "view": {"stroke": "#333", "strokeWidth": 1.2},
        "layer": [
          {"data": {"name": "curves"}, "transform": [{"filter": "datum.panel == 'A_IL4' && datum.series == 'naive'"}],
           "mark": {"type": "area", "fill": "#b3b3b3", "stroke": "#555", "strokeWidth": 0.8, "interpolate": "monotone"},
           "encoding": {
             "x": {"field": "x", "type": "quantitative", "scale": {"domain": [0, 100], "nice": false}, "axis": {"values": [0,12.5,25,37.5,50,62.5,75,87.5,100], "labels": false, "domain": false, "tickSize": 3, "tickWidth": 0.8, "tickColor": "#555", "title": "IL-4⁻ᐟ⁻", "titleFontSize": 20, "titleAngle": 0, "titleAlign": "left", "titleBaseline": "middle", "titleX": 145, "titleY": -48}},
             "y": {"field": "y", "type": "quantitative", "scale": {"domain": [0, 100], "nice": false}, "axis": {"values": [0,20,40,60,80,100], "labels": false, "domain": false, "tickSize": 3, "tickWidth": 0.8, "tickColor": "#555", "title": null}}}},
          {"data": {"name": "markers"}, "transform": [{"filter": "datum.panel == 'A_IL4'"}],
           "mark": {"type": "rule", "stroke": "#222", "strokeWidth": 1.3, "strokeDash": [2, 2]},
           "encoding": {"x": {"field": "x", "type": "quantitative", "scale": {"domain": [0, 100], "nice": false}}}},
          {"data": {"name": "curves"}, "transform": [{"filter": "datum.panel == 'A_IL4' && datum.series == 'KO'"}],
           "mark": {"type": "line", "stroke": "#8c8c8c", "strokeWidth": 1.2, "strokeDash": [1.5, 1.5], "interpolate": "monotone"},
           "encoding": {"x": {"field": "x", "type": "quantitative", "scale": {"domain": [0, 100], "nice": false}}, "y": {"field": "y", "type": "quantitative", "scale": {"domain": [0, 100], "nice": false}}}},
          {"data": {"name": "curves"}, "transform": [{"filter": "datum.panel == 'A_IL4' && datum.series == 'Hp'"}],
           "mark": {"type": "line", "stroke": "black", "strokeWidth": 3, "interpolate": "monotone"},
           "encoding": {"x": {"field": "x", "type": "quantitative", "scale": {"domain": [0, 100], "nice": false}}, "y": {"field": "y", "type": "quantitative", "scale": {"domain": [0, 100], "nice": false}}}}
        ]
      },
      {
        "width": 183, "height": 96,
        "data": {"values": [{}]},
        "mark": {"type": "point", "opacity": 0}
      },
      {
        "width": 134, "height": 96,
        "view": {"stroke": "#333", "strokeWidth": 1.2},
        "title": {"text": "Hp", "orient": "left", "angle": 0, "align": "right", "baseline": "middle", "offset": 8, "dy": 24, "fontSize": 22, "fontStyle": "italic"},
        "layer": [
          {"data": {"name": "curves"}, "transform": [{"filter": "datum.panel == 'B_IL4_Hp' && datum.series == 'KO'"}],
           "mark": {"type": "area", "fill": "#b3b3b3", "stroke": "#555", "strokeWidth": 0.8},
           "encoding": {
             "x": {"field": "x", "type": "quantitative", "scale": {"domain": [0, 100], "nice": false}, "axis": {"values": [0,12.5,25,37.5,50,62.5,75,87.5,100], "labels": false, "domain": false, "tickSize": 3, "tickWidth": 0.8, "tickColor": "#555", "title": "IL-4Rα ━━━▷", "titleFontSize": 22, "titleAngle": 0, "titleAlign": "left", "titleBaseline": "middle", "titleX": -2, "titleY": 20}},
             "y": {"field": "y", "type": "quantitative", "scale": {"domain": [0, 100], "nice": false}, "axis": {"values": [0,20,40,60,80,100], "labels": false, "domain": false, "tickSize": 3, "tickWidth": 0.8, "tickColor": "#555", "title": "% of max  ━━━▷", "titleFontSize": 20, "titleAngle": -90, "titleAlign": "left", "titleBaseline": "middle", "titleX": -15, "titleY": 96}}}},
          {"data": {"name": "markers"}, "transform": [{"filter": "datum.panel == 'B_IL4_Hp'"}],
           "mark": {"type": "rule", "stroke": "#222", "strokeWidth": 1.3, "strokeDash": [2, 2]},
           "encoding": {"x": {"field": "x", "type": "quantitative", "scale": {"domain": [0, 100], "nice": false}}}},
          {"data": {"name": "curves"}, "transform": [{"filter": "datum.panel == 'B_IL4_Hp' && datum.series == 'WT'"}],
           "mark": {"type": "line", "stroke": "black", "strokeWidth": 3},
           "encoding": {"x": {"field": "x", "type": "quantitative", "scale": {"domain": [0, 100], "nice": false}}, "y": {"field": "y", "type": "quantitative", "scale": {"domain": [0, 100], "nice": false}}}}
        ]
      },
      {
        "width": 134, "height": 96,
        "view": {"stroke": "#333", "strokeWidth": 1.2},
        "layer": [
          {"data": {"name": "curves"}, "transform": [{"filter": "datum.panel == 'B_Stat6_Hp' && datum.series == 'KO'"}],
           "mark": {"type": "area", "fill": "#b3b3b3", "stroke": "#555", "strokeWidth": 0.8},
           "encoding": {
             "x": {"field": "x", "type": "quantitative", "scale": {"domain": [0, 100], "nice": false}, "axis": {"values": [0,12.5,25,37.5,50,62.5,75,87.5,100], "labels": false, "domain": false, "tickSize": 3, "tickWidth": 0.8, "tickColor": "#555", "title": null}},
             "y": {"field": "y", "type": "quantitative", "scale": {"domain": [0, 100], "nice": false}, "axis": {"values": [0,20,40,60,80,100], "labels": false, "domain": false, "tickSize": 3, "tickWidth": 0.8, "tickColor": "#555", "title": null}}}},
          {"data": {"name": "markers"}, "transform": [{"filter": "datum.panel == 'B_Stat6_Hp'"}],
           "mark": {"type": "rule", "stroke": "#222", "strokeWidth": 1.3, "strokeDash": [2, 2]},
           "encoding": {"x": {"field": "x", "type": "quantitative", "scale": {"domain": [0, 100], "nice": false}}}},
          {"data": {"name": "curves"}, "transform": [{"filter": "datum.panel == 'B_Stat6_Hp' && datum.series == 'WT'"}],
           "mark": {"type": "line", "stroke": "black", "strokeWidth": 3},
           "encoding": {"x": {"field": "x", "type": "quantitative", "scale": {"domain": [0, 100], "nice": false}}, "y": {"field": "y", "type": "quantitative", "scale": {"domain": [0, 100], "nice": false}}}},
          {"data": {"name": "markers"}, "transform": [{"filter": "false"}],
           "mark": {"type": "point", "filled": true},
           "encoding": {
             "shape": {"field": "cells", "type": "nominal",
               "scale": {"domain": ["WT cells", "KO cells"], "range": ["M-1.25,0H1.25", "M-1.0,-0.32H1.0V0.32H-1.0Z"]},
               "legend": {"title": null, "direction": "horizontal", "orient": "none", "legendX": -169.5, "legendY": 136,
                 "labelFontSize": 21, "labelOffset": 16, "symbolSize": 900, "symbolStrokeWidth": 4, "columnPadding": 21,
                 "symbolOpacity": 1, "labelLimit": 400}},
             "fill": {"field": "cells", "type": "nominal", "scale": {"domain": ["WT cells", "KO cells"], "range": ["transparent", "#b3b3b3"]}},
             "stroke": {"field": "cells", "type": "nominal", "scale": {"domain": ["WT cells", "KO cells"], "range": ["black", "#8c8c8c"]}}
           }}
        ]
      },
      {
        "width": 133, "height": 96,
        "view": {"stroke": "#333", "strokeWidth": 1.2},
        "title": {"text": "IL-4Rα ━━━▷", "orient": "bottom", "anchor": "start", "frame": "group", "offset": 7, "dx": 2, "fontSize": 22},
        "layer": [
          {"data": {"name": "curves"}, "transform": [{"filter": "datum.panel == 'A_Stat6' && datum.series == 'naive'"}],
           "mark": {"type": "area", "fill": "#b3b3b3", "stroke": "#555", "strokeWidth": 0.8, "interpolate": "monotone"},
           "encoding": {
             "x": {"field": "x", "type": "quantitative", "scale": {"domain": [0, 100], "nice": false}, "axis": {"values": [0,12.5,25,37.5,50,62.5,75,87.5,100], "labels": false, "domain": false, "tickSize": 3, "tickWidth": 0.8, "tickColor": "#555", "title": "Stat6⁻ᐟ⁻", "titleFontSize": 20, "titleAngle": 0, "titleAlign": "left", "titleBaseline": "middle", "titleX": 145, "titleY": -40}},
             "y": {"field": "y", "type": "quantitative", "scale": {"domain": [0, 100], "nice": false}, "axis": {"values": [0,20,40,60,80,100], "labels": false, "domain": false, "tickSize": 3, "tickWidth": 0.8, "tickColor": "#555", "title": "% of max  ━━━▷", "titleFontSize": 20, "titleAngle": -90, "titleAlign": "left", "titleBaseline": "middle", "titleX": -19, "titleY": 96}}}},
          {"data": {"name": "markers"}, "transform": [{"filter": "datum.panel == 'A_Stat6'"}],
           "mark": {"type": "rule", "stroke": "#222", "strokeWidth": 1.3, "strokeDash": [2, 2]},
           "encoding": {"x": {"field": "x", "type": "quantitative", "scale": {"domain": [0, 100], "nice": false}}}},
          {"data": {"name": "curves"}, "transform": [{"filter": "datum.panel == 'A_Stat6' && datum.series == 'KO'"}],
           "mark": {"type": "line", "stroke": "#8c8c8c", "strokeWidth": 1.2, "strokeDash": [1.5, 1.5], "interpolate": "monotone"},
           "encoding": {"x": {"field": "x", "type": "quantitative", "scale": {"domain": [0, 100], "nice": false}}, "y": {"field": "y", "type": "quantitative", "scale": {"domain": [0, 100], "nice": false}}}},
          {"data": {"name": "curves"}, "transform": [{"filter": "datum.panel == 'A_Stat6' && datum.series == 'Hp'"}],
           "mark": {"type": "line", "stroke": "black", "strokeWidth": 3, "interpolate": "monotone"},
           "encoding": {"x": {"field": "x", "type": "quantitative", "scale": {"domain": [0, 100], "nice": false}}, "y": {"field": "y", "type": "quantitative", "scale": {"domain": [0, 100], "nice": false}}}}
        ]
      }
    ],
    "columns": 4,
    "spacing": {"row": 9, "column": 5},
    "bounds": "flush",
    "align": "each",
    "resolve": {"scale": {"shape": "independent", "fill": "independent", "stroke": "independent", "strokeDash": "independent"}}
  },
  {
    "concat": [
      {
        "width": 114, "height": 1,
        "data": {"values": [{}]},
        "mark": {"type": "point", "opacity": 0},
        "title": {"text": "C", "anchor": "start", "frame": "group", "dx": -30, "offset": -7, "fontSize": 29, "baseline": "alphabetic"}
      },
      {
        "width": 124, "height": 190,
        "title": {"text": "Stat6 MFI", "subtitle": "(gated CD4+ GFP-)", "orient": "left", "anchor": "middle", "frame": "group", "fontSize": 23, "subtitleFontSize": 19, "subtitlePadding": 3, "offset": 20},
        "layer": [
          {"data": {"name": "bars"}, "transform": [{"filter": "datum.chart == 'stat6'"}], "mark": {"type": "bar", "fill": "black", "width": 28},
           "encoding": {"x": {"field": "group", "type": "nominal", "scale": {"type": "point", "padding": 0.5, "domain": ["WT", "Stat6 +/-", "Stat6 -/-"]}, "axis": {"title": null, "labels": false, "tickSize": 6, "tickWidth": 1.5, "domainWidth": 2}},
             "y": {"field": "mean", "type": "quantitative", "scale": {"domain": [0, 300], "nice": false}, "axis": {"values": [0, 100, 200, 300], "title": null, "labelFontSize": 15, "tickSize": 6, "tickWidth": 1.5, "domainWidth": 2, "labelPadding": 3, "labelOverlap": false}}}},
          {"data": {"name": "bars"}, "transform": [{"filter": "datum.chart == 'stat6'"}], "mark": {"type": "rule", "stroke": "black", "strokeWidth": 1.5},
           "encoding": {"x": {"field": "group", "type": "nominal", "scale": {"type": "point", "padding": 0.5, "domain": ["WT", "Stat6 +/-", "Stat6 -/-"]}}, "y": {"field": "mean", "type": "quantitative", "scale": {"domain": [0, 300], "nice": false}}, "y2": {"field": "upper"}}},
          {"data": {"name": "bars"}, "transform": [{"filter": "datum.chart == 'stat6'"}], "mark": {"type": "tick", "orient": "horizontal", "size": 14, "thickness": 1.5, "color": "black"},
           "encoding": {"x": {"field": "group", "type": "nominal", "scale": {"type": "point", "padding": 0.5, "domain": ["WT", "Stat6 +/-", "Stat6 -/-"]}}, "y": {"field": "upper", "type": "quantitative", "scale": {"domain": [0, 300], "nice": false}}}},
          {"data": {"name": "brackets"}, "transform": [{"filter": "datum.chart == 'stat6'"}], "mark": {"type": "rule", "stroke": "black", "strokeWidth": 3},
           "encoding": {"x": {"field": "from", "type": "nominal", "scale": {"type": "point", "padding": 0.5, "domain": ["WT", "Stat6 +/-", "Stat6 -/-"]}}, "x2": {"field": "to"}, "y": {"field": "level", "type": "quantitative", "scale": {"domain": [0, 300], "nice": false}}}},
          {"data": {"name": "brackets"}, "transform": [{"filter": "datum.chart == 'stat6'"}], "mark": {"type": "tick", "orient": "vertical", "size": 8, "thickness": 3, "yOffset": 3, "color": "black"},
           "encoding": {"x": {"field": "from", "type": "nominal", "scale": {"type": "point", "padding": 0.5, "domain": ["WT", "Stat6 +/-", "Stat6 -/-"]}}, "y": {"field": "level", "type": "quantitative", "scale": {"domain": [0, 300], "nice": false}}}},
          {"data": {"name": "brackets"}, "transform": [{"filter": "datum.chart == 'stat6'"}], "mark": {"type": "tick", "orient": "vertical", "size": 8, "thickness": 3, "yOffset": 3, "color": "black"},
           "encoding": {"x": {"field": "to", "type": "nominal", "scale": {"type": "point", "padding": 0.5, "domain": ["WT", "Stat6 +/-", "Stat6 -/-"]}}, "y": {"field": "level", "type": "quantitative", "scale": {"domain": [0, 300], "nice": false}}}},
          {"data": {"name": "brackets"}, "transform": [{"filter": "datum.chart == 'stat6'"}], "mark": {"type": "text", "fontSize": 19, "baseline": "alphabetic", "dx": 21, "dy": 3, "color": "black"},
           "encoding": {"x": {"field": "from", "type": "nominal", "scale": {"type": "point", "padding": 0.5, "domain": ["WT", "Stat6 +/-", "Stat6 -/-"]}}, "y": {"field": "level", "type": "quantitative", "scale": {"domain": [0, 300], "nice": false}}, "text": {"field": "label"}}}
        ]
      },
      {
        "width": 121, "height": 1,
        "data": {"values": [{}]},
        "mark": {"type": "point", "opacity": 0}
      },
      {
        "width": 128, "height": 190,
        "title": {"text": "IL4Rα MFI", "subtitle": "(gated CD4+ GFP-)", "orient": "left", "anchor": "middle", "frame": "group", "fontSize": 23, "subtitleFontSize": 19, "subtitlePadding": 5, "offset": 14},
        "layer": [
          {"data": {"name": "bars"}, "transform": [{"filter": "datum.chart == 'il4r'"}], "mark": {"type": "bar", "fill": "black", "width": 28},
           "encoding": {"x": {"field": "group", "type": "nominal", "scale": {"type": "point", "padding": 0.5, "domain": ["WT", "Stat6 +/-", "Stat6 -/-"]}, "axis": {"title": null, "labels": false, "tickSize": 6, "tickWidth": 1.5, "domainWidth": 2}},
             "y": {"field": "mean", "type": "quantitative", "scale": {"domain": [0, 200], "nice": false}, "axis": {"values": [0, 100, 200], "title": null, "labelFontSize": 15, "tickSize": 6, "tickWidth": 1.5, "domainWidth": 2, "labelPadding": 3, "labelOverlap": false}}}},
          {"data": {"name": "bars"}, "transform": [{"filter": "datum.chart == 'il4r'"}], "mark": {"type": "rule", "stroke": "black", "strokeWidth": 1.5},
           "encoding": {"x": {"field": "group", "type": "nominal", "scale": {"type": "point", "padding": 0.5, "domain": ["WT", "Stat6 +/-", "Stat6 -/-"]}}, "y": {"field": "mean", "type": "quantitative", "scale": {"domain": [0, 200], "nice": false}}, "y2": {"field": "upper"}}},
          {"data": {"name": "bars"}, "transform": [{"filter": "datum.chart == 'il4r'"}], "mark": {"type": "tick", "orient": "horizontal", "size": 14, "thickness": 1.5, "color": "black"},
           "encoding": {"x": {"field": "group", "type": "nominal", "scale": {"type": "point", "padding": 0.5, "domain": ["WT", "Stat6 +/-", "Stat6 -/-"]}}, "y": {"field": "upper", "type": "quantitative", "scale": {"domain": [0, 200], "nice": false}}}},
          {"data": {"name": "brackets"}, "transform": [{"filter": "datum.chart == 'il4r'"}], "mark": {"type": "rule", "stroke": "black", "strokeWidth": 3},
           "encoding": {"x": {"field": "from", "type": "nominal", "scale": {"type": "point", "padding": 0.5, "domain": ["WT", "Stat6 +/-", "Stat6 -/-"]}}, "x2": {"field": "to"}, "y": {"field": "level", "type": "quantitative", "scale": {"domain": [0, 200], "nice": false}}}},
          {"data": {"name": "brackets"}, "transform": [{"filter": "datum.chart == 'il4r'"}], "mark": {"type": "tick", "orient": "vertical", "size": 8, "thickness": 3, "yOffset": 3, "color": "black"},
           "encoding": {"x": {"field": "from", "type": "nominal", "scale": {"type": "point", "padding": 0.5, "domain": ["WT", "Stat6 +/-", "Stat6 -/-"]}}, "y": {"field": "level", "type": "quantitative", "scale": {"domain": [0, 200], "nice": false}}}},
          {"data": {"name": "brackets"}, "transform": [{"filter": "datum.chart == 'il4r'"}], "mark": {"type": "tick", "orient": "vertical", "size": 8, "thickness": 3, "yOffset": 3, "color": "black"},
           "encoding": {"x": {"field": "to", "type": "nominal", "scale": {"type": "point", "padding": 0.5, "domain": ["WT", "Stat6 +/-", "Stat6 -/-"]}}, "y": {"field": "level", "type": "quantitative", "scale": {"domain": [0, 200], "nice": false}}}},
          {"data": {"name": "brackets"}, "transform": [{"filter": "datum.chart == 'il4r'"}], "mark": {"type": "text", "fontSize": 19, "baseline": "alphabetic", "dx": 21, "dy": 3, "color": "black"},
           "encoding": {"x": {"field": "from", "type": "nominal", "scale": {"type": "point", "padding": 0.5, "domain": ["WT", "Stat6 +/-", "Stat6 -/-"]}}, "y": {"field": "level", "type": "quantitative", "scale": {"domain": [0, 200], "nice": false}}, "text": {"field": "label"}}}
        ]
      },
      {
        "width": 114, "height": 1,
        "data": {"values": [{}]},
        "mark": {"type": "point", "opacity": 0}
      },
      {
        "width": 124, "height": 193,
        "title": {"text": "GFP+ as % of CD4+", "orient": "left", "anchor": "middle", "frame": "group", "fontSize": 21, "offset": 36},
        "layer": [
          {"data": {"name": "bars"}, "transform": [{"filter": "datum.chart == 'gfp'"}], "mark": {"type": "bar", "fill": "black", "width": 28},
           "encoding": {"x": {"field": "group", "type": "nominal", "scale": {"type": "point", "padding": 0.5, "domain": ["WT", "Stat6 +/-", "Stat6 -/-"]}, "axis": {"title": null, "labels": true, "labelAngle": -90, "labelFontSize": 22, "labelPadding": 12, "tickSize": 6, "tickWidth": 1.5, "domainWidth": 2}},
             "y": {"field": "mean", "type": "quantitative", "scale": {"domain": [0, 25], "nice": false}, "axis": {"values": [0, 5, 10, 15, 20, 25], "tickCount": 6, "title": null, "labelFontSize": 15, "tickSize": 6, "tickWidth": 1.5, "domainWidth": 2, "labelPadding": 3, "labelOverlap": false, "labelSeparation": 0, "labelBound": false, "labelFlush": false}}}},
          {"data": {"name": "bars"}, "transform": [{"filter": "datum.chart == 'gfp'"}], "mark": {"type": "rule", "stroke": "black", "strokeWidth": 1.5},
           "encoding": {"x": {"field": "group", "type": "nominal", "scale": {"type": "point", "padding": 0.5, "domain": ["WT", "Stat6 +/-", "Stat6 -/-"]}}, "y": {"field": "mean", "type": "quantitative", "scale": {"domain": [0, 25], "nice": false}}, "y2": {"field": "upper"}}},
          {"data": {"name": "bars"}, "transform": [{"filter": "datum.chart == 'gfp'"}], "mark": {"type": "tick", "orient": "horizontal", "size": 14, "thickness": 1.5, "color": "black"},
           "encoding": {"x": {"field": "group", "type": "nominal", "scale": {"type": "point", "padding": 0.5, "domain": ["WT", "Stat6 +/-", "Stat6 -/-"]}}, "y": {"field": "upper", "type": "quantitative", "scale": {"domain": [0, 25], "nice": false}}}},
          {"data": {"name": "brackets"}, "transform": [{"filter": "datum.chart == 'gfp'"}], "mark": {"type": "rule", "stroke": "black", "strokeWidth": 3},
           "encoding": {"x": {"field": "from", "type": "nominal", "scale": {"type": "point", "padding": 0.5, "domain": ["WT", "Stat6 +/-", "Stat6 -/-"]}}, "x2": {"field": "to"}, "y": {"field": "level", "type": "quantitative", "scale": {"domain": [0, 25], "nice": false}}}},
          {"data": {"name": "brackets"}, "transform": [{"filter": "datum.chart == 'gfp'"}], "mark": {"type": "tick", "orient": "vertical", "size": 8, "thickness": 3, "yOffset": 3, "color": "black"},
           "encoding": {"x": {"field": "from", "type": "nominal", "scale": {"type": "point", "padding": 0.5, "domain": ["WT", "Stat6 +/-", "Stat6 -/-"]}}, "y": {"field": "level", "type": "quantitative", "scale": {"domain": [0, 25], "nice": false}}}},
          {"data": {"name": "brackets"}, "transform": [{"filter": "datum.chart == 'gfp'"}], "mark": {"type": "tick", "orient": "vertical", "size": 8, "thickness": 3, "yOffset": 3, "color": "black"},
           "encoding": {"x": {"field": "to", "type": "nominal", "scale": {"type": "point", "padding": 0.5, "domain": ["WT", "Stat6 +/-", "Stat6 -/-"]}}, "y": {"field": "level", "type": "quantitative", "scale": {"domain": [0, 25], "nice": false}}}},
          {"data": {"name": "brackets"}, "transform": [{"filter": "datum.chart == 'gfp'"}], "mark": {"type": "text", "fontSize": 19, "baseline": "alphabetic", "dx": 21, "dy": 3, "color": "black"},
           "encoding": {"x": {"field": "from", "type": "nominal", "scale": {"type": "point", "padding": 0.5, "domain": ["WT", "Stat6 +/-", "Stat6 -/-"]}}, "y": {"field": "level", "type": "quantitative", "scale": {"domain": [0, 25], "nice": false}}, "text": {"field": "label"}}}
        ]
      },
      {
        "width": 121, "height": 1,
        "data": {"values": [{}]},
        "mark": {"type": "point", "opacity": 0}
      },
      {
        "width": 128, "height": 193,
        "title": {"text": "# GFP+ CD4+ cells", "subtitle": "(x10⁶)", "orient": "left", "anchor": "middle", "frame": "group", "fontSize": 21, "subtitleFontSize": 19, "subtitlePadding": 8, "offset": 10},
        "layer": [
          {"data": {"name": "bars"}, "transform": [{"filter": "datum.chart == 'cells'"}], "mark": {"type": "bar", "fill": "black", "width": 28},
           "encoding": {"x": {"field": "group", "type": "nominal", "scale": {"type": "point", "padding": 0.5, "domain": ["WT", "Stat6 +/-", "Stat6 -/-"]}, "axis": {"title": null, "labels": true, "labelAngle": -90, "labelFontSize": 22, "labelPadding": 12, "tickSize": 6, "tickWidth": 1.5, "domainWidth": 2}},
             "y": {"field": "mean", "type": "quantitative", "scale": {"domain": [0, 15], "nice": false}, "axis": {"values": [0, 5, 10, 15], "title": null, "labelFontSize": 15, "tickSize": 6, "tickWidth": 1.5, "domainWidth": 2, "labelPadding": 3, "labelOverlap": false}}}},
          {"data": {"name": "bars"}, "transform": [{"filter": "datum.chart == 'cells'"}], "mark": {"type": "rule", "stroke": "black", "strokeWidth": 1.5},
           "encoding": {"x": {"field": "group", "type": "nominal", "scale": {"type": "point", "padding": 0.5, "domain": ["WT", "Stat6 +/-", "Stat6 -/-"]}}, "y": {"field": "mean", "type": "quantitative", "scale": {"domain": [0, 15], "nice": false}}, "y2": {"field": "upper"}}},
          {"data": {"name": "bars"}, "transform": [{"filter": "datum.chart == 'cells'"}], "mark": {"type": "tick", "orient": "horizontal", "size": 14, "thickness": 1.5, "color": "black"},
           "encoding": {"x": {"field": "group", "type": "nominal", "scale": {"type": "point", "padding": 0.5, "domain": ["WT", "Stat6 +/-", "Stat6 -/-"]}}, "y": {"field": "upper", "type": "quantitative", "scale": {"domain": [0, 15], "nice": false}}}},
          {"data": {"name": "brackets"}, "transform": [{"filter": "datum.chart == 'cells'"}], "mark": {"type": "rule", "stroke": "black", "strokeWidth": 3},
           "encoding": {"x": {"field": "from", "type": "nominal", "scale": {"type": "point", "padding": 0.5, "domain": ["WT", "Stat6 +/-", "Stat6 -/-"]}}, "x2": {"field": "to"}, "y": {"field": "level", "type": "quantitative", "scale": {"domain": [0, 15], "nice": false}}}},
          {"data": {"name": "brackets"}, "transform": [{"filter": "datum.chart == 'cells'"}], "mark": {"type": "tick", "orient": "vertical", "size": 8, "thickness": 3, "yOffset": 3, "color": "black"},
           "encoding": {"x": {"field": "from", "type": "nominal", "scale": {"type": "point", "padding": 0.5, "domain": ["WT", "Stat6 +/-", "Stat6 -/-"]}}, "y": {"field": "level", "type": "quantitative", "scale": {"domain": [0, 15], "nice": false}}}},
          {"data": {"name": "brackets"}, "transform": [{"filter": "datum.chart == 'cells'"}], "mark": {"type": "tick", "orient": "vertical", "size": 8, "thickness": 3, "yOffset": 3, "color": "black"},
           "encoding": {"x": {"field": "to", "type": "nominal", "scale": {"type": "point", "padding": 0.5, "domain": ["WT", "Stat6 +/-", "Stat6 -/-"]}}, "y": {"field": "level", "type": "quantitative", "scale": {"domain": [0, 15], "nice": false}}}},
          {"data": {"name": "brackets"}, "transform": [{"filter": "datum.chart == 'cells' && datum.label != 'ns'"}], "mark": {"type": "text", "fontSize": 19, "baseline": "alphabetic", "dx": 21, "dy": 3, "color": "black"},
           "encoding": {"x": {"field": "from", "type": "nominal", "scale": {"type": "point", "padding": 0.5, "domain": ["WT", "Stat6 +/-", "Stat6 -/-"]}}, "y": {"field": "level", "type": "quantitative", "scale": {"domain": [0, 15], "nice": false}}, "text": {"field": "label"}}},
          {"data": {"name": "brackets"}, "transform": [{"filter": "datum.chart == 'cells' && datum.label == 'ns'"}], "mark": {"type": "text", "fontSize": 18, "baseline": "alphabetic", "dx": 21, "dy": -5, "color": "black"},
           "encoding": {"x": {"field": "from", "type": "nominal", "scale": {"type": "point", "padding": 0.5, "domain": ["WT", "Stat6 +/-", "Stat6 -/-"]}}, "y": {"field": "level", "type": "quantitative", "scale": {"domain": [0, 15], "nice": false}}, "text": {"field": "label"}}}
        ]
      }
    ],
    "columns": 4,
    "spacing": {"row": 40, "column": 0},
    "bounds": "flush",
    "align": "each"
  }
]
}
